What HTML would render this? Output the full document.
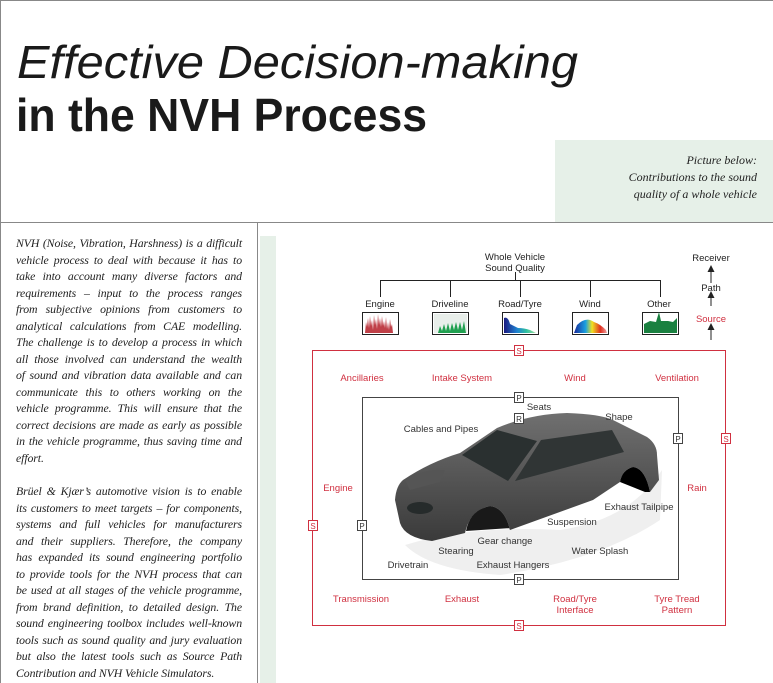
<!DOCTYPE html>
<html><head><meta charset="utf-8"><style>
html,body{margin:0;padding:0;background:#fff}
body{width:773px;height:683px;position:relative;overflow:hidden;font-family:"Liberation Sans",sans-serif}
.para{position:absolute;left:16px;width:226px;font-family:"Liberation Serif",serif;font-style:italic;font-size:11.8px;line-height:16.5px;color:#222;letter-spacing:-0.1px}
.para div{white-space:nowrap;text-align:justify;text-align-last:justify;height:16.5px}
.para div.l{text-align-last:left}
svg{position:absolute;left:0;top:0}
</style></head><body>
<svg width="773" height="683" viewBox="0 0 773 683">
<defs>
<linearGradient id="wg" x1="0" x2="1"><stop offset="0" stop-color="#1a2a9a"/><stop offset=".35" stop-color="#1aa0e0"/><stop offset=".55" stop-color="#f0e020"/><stop offset=".8" stop-color="#e03020"/><stop offset="1" stop-color="#f0a0a0"/></linearGradient>
<linearGradient id="rg" x1="0" x2="1"><stop offset="0" stop-color="#1a1a80"/><stop offset=".4" stop-color="#2080d0"/><stop offset=".7" stop-color="#30c0a0"/><stop offset="1" stop-color="#a0e0a0"/></linearGradient>
<linearGradient id="cb" x1="0" y1="0" x2="0" y2="1"><stop offset="0" stop-color="#707070"/><stop offset="1" stop-color="#3a3a3a"/></linearGradient>
</defs>
<rect x="0.5" y="0.5" width="780" height="222" fill="none" stroke="#888"/>
<line x1="0.5" y1="222" x2="0.5" y2="683" stroke="#888"/>
<line x1="257.5" y1="222" x2="257.5" y2="683" stroke="#888"/>
<rect x="555" y="140" width="218" height="82" fill="#e6f0e8"/>
<rect x="260" y="236" width="16" height="447" fill="#e6f0e8"/>
<text x="17" y="78" font-size="46" font-style="italic" fill="#1a1a1a" textLength="561" lengthAdjust="spacingAndGlyphs">Effective Decision-making</text>
<text x="16" y="131" font-size="46" font-weight="bold" fill="#1a1a1a" textLength="411" lengthAdjust="spacingAndGlyphs">in the NVH Process</text>
<g font-family="Liberation Serif,serif" font-style="italic" font-size="12" fill="#222" text-anchor="end">
<text x="757" y="164">Picture below:</text><text x="757" y="181">Contributions to the sound</text><text x="757" y="198">quality of a whole vehicle</text></g>

<g font-size="9.5" fill="#222" text-anchor="middle">
<text x="515" y="260">Whole Vehicle</text><text x="515" y="271">Sound Quality</text>
<text x="380" y="307">Engine</text><text x="450" y="307">Driveline</text><text x="520" y="307">Road/Tyre</text><text x="590" y="307">Wind</text><text x="659" y="307">Other</text>
<text x="711" y="261">Receiver</text><text x="711" y="291">Path</text>
<text x="711" y="322" fill="#d03040">Source</text>
</g>
<g stroke="#222" fill="none"><path d="M380.5,297V280.5H660.5V297M450.5,280.5V297M520.5,280.5V297M590.5,280.5V297M515.5,272V280.5"/>
<path d="M711,283V270M711,306V296M711,340V328"/></g>
<g fill="#222"><path d="M707.5,272l3.5,-7l3.5,7z"/><path d="M707.5,298l3.5,-7l3.5,7z"/><path d="M707.5,330l3.5,-7l3.5,7z"/></g>
<g stroke="#222" fill="#fff" stroke-width="1"><rect x="362.5" y="312.5" width="36" height="22"/><rect x="432.5" y="312.5" width="36" height="22"/><rect x="502.5" y="312.5" width="36" height="22"/><rect x="572.5" y="312.5" width="36" height="22"/><rect x="642.5" y="312.5" width="36" height="22"/></g>
<path d="M365,333L366,322L367,327L368,318L369,328L370,316L371,326L372,320L373,330L374,315L375,325L376,319L377,329L378,314L379,325L380,318L381,327L382,316L383,326L384,321L385,328L386,317L387,329L388,322L389,330L390,319L391,327L392,324L393,333Z" fill="#c04048"/>
<rect x="434" y="314" width="33" height="19" fill="#e8eeea"/>
<path d="M438,333L440,326L442,331L444,324L446,331L448,323L450,331L452,323L454,330L456,322L458,330L460,322L462,330L464,321L466,333Z" fill="#20a050"/>
<path d="M504,333L504,318Q508,316 510,324Q514,326 518,328Q524,328 530,330L536,333Z" fill="url(#rg)"/>
<path d="M574,333L577,325Q586,316 594,322Q600,324 606,330L607,333Z" fill="url(#wg)"/>
<path d="M644,333L644,324L650,321L656,322L659,312L661,321L668,321L673,322L677,318L677,333Z" fill="#1a8040"/>

<g stroke="#d03040" fill="none"><rect x="312.5" y="350.5" width="413" height="275"/></g>
<rect x="362.5" y="397.5" width="316" height="182" fill="none" stroke="#444"/>
<g font-size="9.5" fill="#d03040" text-anchor="middle">
<text x="362" y="381">Ancillaries</text><text x="462" y="381">Intake System</text><text x="575" y="381">Wind</text><text x="677" y="381">Ventilation</text>
<text x="338" y="491">Engine</text><text x="697" y="491">Rain</text>
<text x="361" y="602">Transmission</text><text x="462" y="602">Exhaust</text><text x="575" y="602">Road/Tyre</text><text x="575" y="613">Interface</text><text x="677" y="602">Tyre Tread</text><text x="677" y="613">Pattern</text>
</g>
<!-- car -->
<path d="M405,545Q470,525 560,530Q630,520 662,470L660,520Q600,560 500,575Q430,570 405,545Z" fill="#efefef"/>
<path d="M395,500Q396,486 403,480Q430,462 460,453L497,428Q530,414 567,413Q600,414 613,420L647,437Q657,444 657,455L659,480L650,492Q645,468 633,467Q622,470 620,482L593,500L510,530Q505,508 490,506Q470,510 465,533L432,541Q405,538 400,523Z" fill="url(#cb)"/>
<path d="M462,455L497,430L537,441L508,481Z" fill="#2a3030"/>
<path d="M541,440L612,430L624,452L515,481Z" fill="#303535"/>
<path d="M510,530Q505,508 490,506Q470,510 466,531L510,528Z" fill="#000" opacity=".9"/>
<path d="M650,492Q645,468 633,467Q622,470 620,482L645,492Z" fill="#000"/>
<path d="M405,480Q425,468 445,470L440,482L410,490Z" fill="#555"/>
<ellipse cx="420" cy="508" rx="13" ry="6" fill="#262b2b"/>
<g font-size="9.5" fill="#333" text-anchor="middle">
<text x="539" y="410">Seats</text><text x="619" y="420">Shape</text><text x="441" y="432">Cables and Pipes</text>
<text x="639" y="510">Exhaust Tailpipe</text><text x="572" y="525">Suspension</text><text x="505" y="544">Gear change</text>
<text x="456" y="554">Stearing</text><text x="600" y="554">Water Splash</text><text x="408" y="568">Drivetrain</text><text x="513" y="568">Exhaust Hangers</text>
</g>
<g font-size="8" text-anchor="middle">
<g stroke="#d03040" fill="#fff"><rect x="514.5" y="345.5" width="9" height="10"/><rect x="308.5" y="520.5" width="9" height="10"/><rect x="721.5" y="433.5" width="9" height="10"/><rect x="514.5" y="620.5" width="9" height="10"/></g>
<g fill="#d03040"><text x="519" y="354">S</text><text x="313" y="529">S</text><text x="726" y="442">S</text><text x="519" y="629">S</text></g>
<g stroke="#444" fill="#fff"><rect x="514.5" y="392.5" width="9" height="10"/><rect x="514.5" y="413.5" width="9" height="10"/><rect x="673.5" y="433.5" width="9" height="10"/><rect x="357.5" y="520.5" width="9" height="10"/><rect x="514.5" y="574.5" width="9" height="10"/></g>
<g fill="#333"><text x="519" y="401">P</text><text x="519" y="422">R</text><text x="678" y="442">P</text><text x="362" y="529">P</text><text x="519" y="583">P</text></g>
</g>
</svg>
<div class="para" style="top:235px">
<div>NVH (Noise, Vibration, Harshness) is a difficult</div>
<div>vehicle process to deal with because it has to</div>
<div>take into account many diverse factors and</div>
<div>requirements – input to the process ranges</div>
<div>from subjective opinions from customers to</div>
<div>analytical calculations from CAE modelling.</div>
<div>The challenge is to develop a process in which</div>
<div>all those involved can understand the wealth</div>
<div>of sound and vibration data available and can</div>
<div>communicate this to others working on the</div>
<div>vehicle programme. This will ensure that the</div>
<div>correct decisions are made as early as possible</div>
<div>in the vehicle programme, thus saving time and</div>
<div class="l">effort.</div>
</div>
<div class="para" style="top:483px">
<div>Brüel &amp; Kjær’s automotive vision is to enable</div>
<div>its customers to meet targets – for components,</div>
<div>systems and full vehicles for manufacturers</div>
<div>and their suppliers. Therefore, the company</div>
<div>has expanded its sound engineering portfolio</div>
<div>to provide tools for the NVH process that can</div>
<div>be used at all stages of the vehicle programme,</div>
<div>from brand definition, to detailed design. The</div>
<div>sound engineering toolbox includes well-known</div>
<div>tools such as sound quality and jury evaluation</div>
<div>but also the latest tools such as Source Path</div>
<div class="l">Contribution and NVH Vehicle Simulators.</div>
</div>
</body></html>
